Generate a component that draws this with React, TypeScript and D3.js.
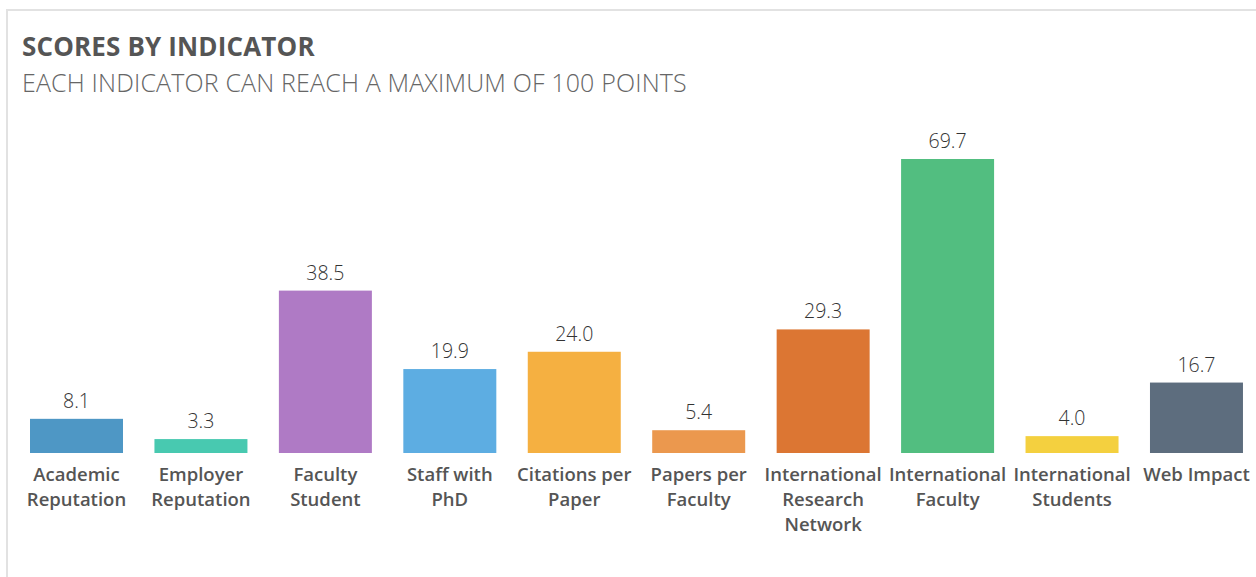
import React from "react";
import * as d3 from "d3";

const categories = [
  ["Academic", "Reputation"],
  ["Employer", "Reputation"],
  ["Faculty", "Student"],
  ["Staff with", "PhD"],
  ["Citations per", "Paper"],
  ["Papers per", "Faculty"],
  ["International", "Research", "Network"],
  ["International", "Faculty"],
  ["International", "Students"],
  ["Web Impact"],
];
const scores = [8.1, 3.3, 38.5, 19.9, 24.0, 5.4, 29.3, 69.7, 4.0, 16.7];
const colors = [
  "#4e97c5", "#48c9b0", "#af7ac5", "#5dade2", "#f5b041",
  "#eb984e", "#dc7633", "#52be80", "#f4d03f", "#5d6d7e",
];
const title = "SCORES BY INDICATOR";
const subtitle = "EACH INDICATOR CAN REACH A MAXIMUM OF 100 POINTS";

const W = 1256;
const H = 577;
const FONT = "'Open Sans', 'Noto Sans', sans-serif";

export default function App() {
  const ids = categories.map((_, i) => String(i));
  const x = d3.scaleBand<string>().domain(ids).range([14.27, 1258.7]).paddingInner(0.2527).paddingOuter(0.1264);
  const y = d3.scaleLinear().domain([0, 69.7]).range([453, 159]);

  return (
    <svg width={W} height={H} style={{ position: "absolute", left: 0, top: 0, background: "#fff" }}>
      <rect x={7} y={10} width={W + 20} height={H + 20} fill="#fff" stroke="#e2e2e2" strokeWidth={2} />
      <text x={22} y={56} fontFamily={FONT} fontSize={26} fontWeight={700} letterSpacing={0.15} fill="#555">{title}</text>
      <text x={22} y={91.5} fontFamily={FONT} fontSize={25} fontWeight={300} letterSpacing={0.15} fill="#666">{subtitle}</text>
      {scores.map((v, i) => {
        const bx = x(String(i))!;
        const cx = bx + x.bandwidth() / 2;
        return (
          <g key={i}>
            <rect x={bx} y={y(v)} width={x.bandwidth()} height={y(0) - y(v)} fill={colors[i]} />
            <text x={cx} y={y(v) - 11} textAnchor="middle" fontFamily={FONT} fontSize={19.5} fontWeight={300} fill="#333">
              {v.toFixed(1)}
            </text>
            {categories[i].map((line, j) => (
              <text key={j} x={cx} y={480.5 + j * 25} textAnchor="middle" fontFamily={FONT} fontSize={18.5} fontWeight={600} fill="#555">
                {line}
              </text>
            ))}
          </g>
        );
      })}
    </svg>
  );
}
